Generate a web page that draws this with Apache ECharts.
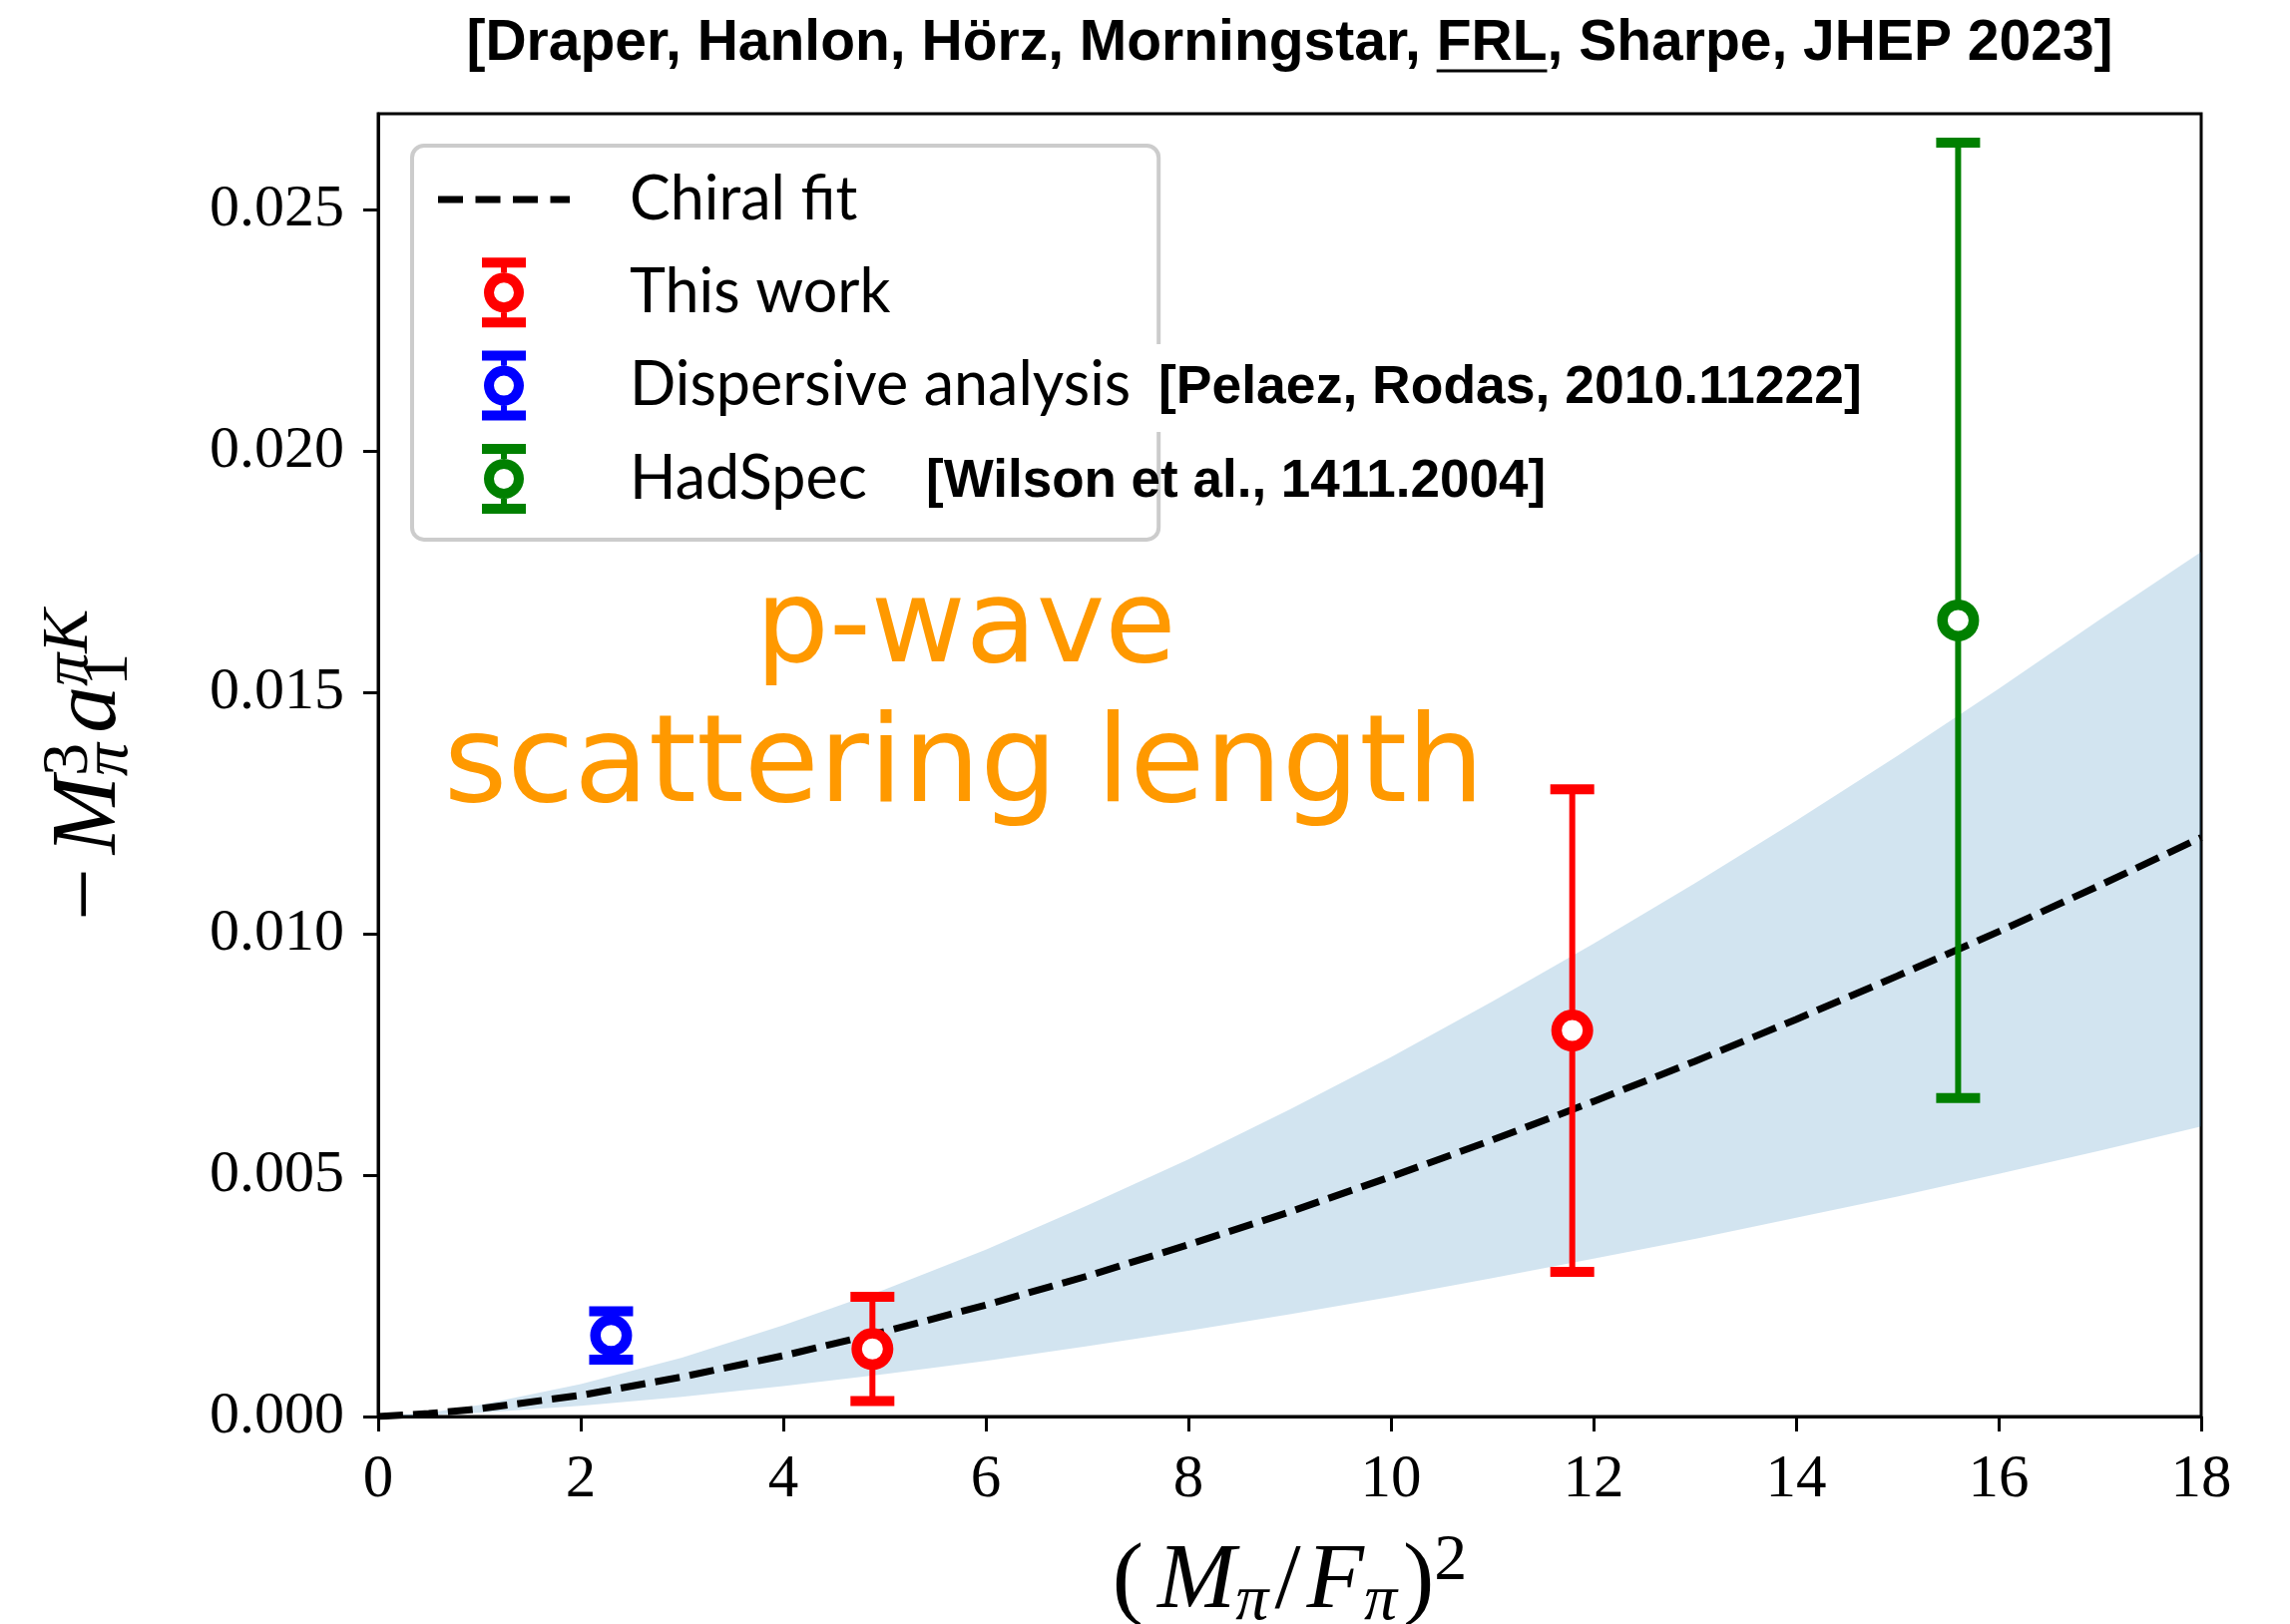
<!DOCTYPE html>
<html>
<head>
<meta charset="utf-8">
<script src="https://cdn.jsdelivr.net/npm/echarts@6/dist/echarts.min.js"></script>
<style>
  html, body { margin: 0; padding: 0; background: #ffffff; }
  #chart { width: 2295px; height: 1628px; }
</style>
</head>
<body>
<div id="chart"></div>
<script>
// Chiral fit (central curve) and its uncertainty band, sampled along (Mπ/Fπ)^2
const fitX      = [0, 0.5, 1, 2, 3, 4, 5, 6, 7, 8, 9, 10, 11, 12, 13, 14, 15, 16, 17, 18];
const fitY      = [0, 0.00006, 0.00016, 0.00044, 0.00082, 0.00126, 0.00176, 0.00231, 0.00291, 0.00356,
                   0.00424, 0.00497, 0.00573, 0.00653, 0.00736, 0.00823, 0.00913, 0.01005, 0.01101, 0.01200];
const bandUpper = [0, 0.00008, 0.00024, 0.00067, 0.00122, 0.00189, 0.00263, 0.00346, 0.00437, 0.00533,
                   0.00636, 0.00745, 0.00860, 0.00980, 0.01105, 0.01235, 0.01369, 0.01508, 0.01652, 0.01792];
const bandLower = [0, 0.00003, 0.00008, 0.00022, 0.00041, 0.00063, 0.00088, 0.00115, 0.00146, 0.00178,
                   0.00212, 0.00248, 0.00287, 0.00327, 0.00368, 0.00412, 0.00456, 0.00503, 0.00551, 0.00601];

// Determinations with 1-sigma errors
const thisWorkX   = [4.88, 11.79];
const thisWorkY   = [0.0014, 0.0080];
const thisWorkErr = [0.00108, 0.0050];

const dispersiveX   = [2.30];
const dispersiveY   = [0.00168];
const dispersiveErr = [0.0005];

const hadSpecX   = [15.60];
const hadSpecY   = [0.0165];
const hadSpecErr = [0.0099];

// Axis ticks
const xTicks = [0, 2, 4, 6, 8, 10, 12, 14, 16, 18];
const yTicks = [0, 0.005, 0.010, 0.015, 0.020, 0.025];

const seriesNames = ['Chiral fit', 'This work', 'Dispersive analysis', 'HadSpec'];
const titleText = '[Draper, Hanlon, Hörz, Morningstar, FRL, Sharpe, JHEP 2023]';
const titleUnderlined = 'FRL';
const refPelaez = '[Pelaez, Rodas, 2010.11222]';
const refWilson = '[Wilson et al., 1411.2004]';
const noteLines = ['p-wave', 'scattering length'];

// ---- layout ----
const GRID = { left: 379, top: 114, width: 1827, height: 1306 };
const plotCenterX = GRID.left + GRID.width / 2;

const zip3 = (a, b, c) => a.map((v, i) => [v, b[i], c[i]]);

function textWidth(str, font) {
  const ctx = document.createElement('canvas').getContext('2d');
  ctx.font = font;
  return ctx.measureText(str).width;
}

const TITLE_SIZE = 57;
const titleFont = 'bold ' + TITLE_SIZE + 'px "Liberation Sans"';
const titleW = textWidth(titleText, titleFont);
const titleLeft = plotCenterX - titleW / 2;
const ulStart = titleLeft + textWidth(titleText.slice(0, titleText.indexOf(titleUnderlined)), titleFont);
const ulEnd = ulStart + textWidth(titleUnderlined, titleFont);

// Error bar: stem, caps and an open circle marker
function errorBarItem(params, api) {
  const x = api.value(0), y = api.value(1), e = api.value(2);
  const c = api.coord([x, y]);
  const hi = api.coord([x, y + e]);
  const lo = api.coord([x, y - e]);
  const color = api.visual('color');
  const capHalf = 22;
  return {
    type: 'group',
    children: [
      { type: 'line', shape: { x1: c[0], y1: hi[1], x2: c[0], y2: lo[1] }, style: { stroke: color, lineWidth: 6 } },
      { type: 'line', shape: { x1: c[0] - capHalf, y1: hi[1], x2: c[0] + capHalf, y2: hi[1] }, style: { stroke: color, lineWidth: 10 } },
      { type: 'line', shape: { x1: c[0] - capHalf, y1: lo[1], x2: c[0] + capHalf, y2: lo[1] }, style: { stroke: color, lineWidth: 10 } },
      { type: 'circle', shape: { cx: c[0], cy: c[1], r: 15.75 }, style: { fill: '#ffffff', stroke: color, lineWidth: 10.5 } }
    ]
  };
}

// Shaded band between lower and upper edges, drawn as one polygon
function bandItem(params, api) {
  if (params.dataIndex !== 0) return null;
  const n = params.dataInsideLength;
  const pts = [];
  for (let i = 0; i < n; i++) pts.push(api.coord([api.value(0, i), api.value(2, i)]));
  for (let i = n - 1; i >= 0; i--) pts.push(api.coord([api.value(0, i), api.value(1, i)]));
  return { type: 'polygon', shape: { points: pts }, style: { fill: 'rgba(31,119,180,0.2)' } };
}

// Legend glyphs (132 x 70 frame)
const frame = 'M0 0M132 70';
const errIcon = 'path://' + frame +
  'M44 0H88V10H44Z' +
  'M63 10H69V15H63Z' +
  'M86 35A20 20 0 1 1 46 35A20 20 0 1 1 86 35Z' +
  'M76 35A10 10 0 1 0 56 35A10 10 0 1 0 76 35Z' +
  'M63 55H69V60H63Z' +
  'M44 60H88V70H44Z';
const dashIcon = 'path://' + frame +
  'M0 31.5H25V38.5H0Z' +
  'M37.5 31.5H62.5V38.5H37.5Z' +
  'M75 31.5H100V38.5H75Z' +
  'M112.5 31.5H132V38.5H112.5Z';

// Math-style rich text for axis titles (tokens laid out left to right;
// a zero-width token lets a superscript sit above the following subscript)
const SERIF = '"Liberation Serif", "DejaVu Serif", serif';
const MAIN = 94, SMALL = 66, LH = 106;
const base = { fontFamily: SERIF, color: '#000', align: 'left' };
const mainSt = Object.assign({}, base, { fontSize: MAIN, lineHeight: LH, verticalAlign: 'middle' });
const supSt  = Object.assign({}, base, { fontSize: SMALL, lineHeight: 52, verticalAlign: 'top' });
const subSt  = Object.assign({}, base, { fontSize: SMALL, lineHeight: 40, verticalAlign: 'bottom' });
const mathRich = {
  rm:     mainSt,
  rmR:    Object.assign({}, mainSt, { padding: [0, 14, 0, 0] }),
  rmL:    Object.assign({}, mainSt, { padding: [0, 0, 0, 6] }),
  rmLR:   Object.assign({}, mainSt, { padding: [0, 6, 0, 6] }),
  it:     Object.assign({}, mainSt, { fontStyle: 'italic' }),
  supRm:  supSt,
  supRmZ: Object.assign({}, supSt, { width: 0 }),
  supIt:  Object.assign({}, supSt, { fontStyle: 'italic' }),
  subIt:  Object.assign({}, subSt, { fontStyle: 'italic' }),
  subItR: Object.assign({}, subSt, { fontStyle: 'italic', padding: [0, 10, 0, 0] }),
  subRmZ: Object.assign({}, subSt, { width: 0 })
};

const chart = echarts.init(document.getElementById('chart'), null, { renderer: 'canvas' });

chart.setOption({
  animation: false,
  backgroundColor: '#ffffff',
  title: {
    text: titleText,
    left: titleLeft,
    top: 16,
    padding: 0,
    textStyle: { fontFamily: '"Liberation Sans", Arial, sans-serif', fontWeight: 'bold', fontSize: TITLE_SIZE, color: '#000' }
  },
  grid: {
    left: GRID.left, top: GRID.top, width: GRID.width, height: GRID.height,
    outerBoundsMode: 'none',
    containLabel: false,
    show: true, borderColor: '#000', borderWidth: 3, backgroundColor: 'transparent'
  },
  legend: {
    orient: 'vertical',
    left: 413,
    top: 146,
    padding: [19, 28, 26, 26],
    itemGap: 23.3,
    itemWidth: 132,
    itemHeight: 70,
    selectedMode: false,
    backgroundColor: 'rgba(255,255,255,0.8)',
    borderColor: '#cccccc',
    borderWidth: 4,
    borderRadius: 12,
    textStyle: { fontFamily: 'Lato', fontSize: 61, color: '#000', padding: [0, 0, 0, 55] },
    data: [
      { name: seriesNames[0], icon: dashIcon },
      { name: seriesNames[1], icon: errIcon },
      { name: seriesNames[2], icon: errIcon },
      { name: seriesNames[3], icon: errIcon }
    ]
  },
  xAxis: {
    type: 'value',
    min: 0, max: 18, interval: 2,
    name: '{rmR|(}{it|M}{subIt|π}{rmLR|/}{it|F}{subIt|π}{rmL|)}{supRm|2}',
    nameLocation: 'middle',
    nameGap: 113,
    nameTextStyle: { rich: mathRich, fontFamily: SERIF, fontSize: MAIN, lineHeight: LH },
    axisLine: { show: true, lineStyle: { color: '#000', width: 3 } },
    axisTick: { show: true, inside: false, length: 15, lineStyle: { color: '#000', width: 3 }, customValues: xTicks },
    axisLabel: { margin: 33, fontFamily: SERIF, fontSize: 61, color: '#000', customValues: xTicks, formatter: v => String(v) },
    splitLine: { show: false }
  },
  yAxis: {
    type: 'value',
    min: 0, max: 0.027,
    name: '{rmR|−}{it|M}{supRmZ|3}{subItR|π}{it|a}{subRmZ|1}{supIt|πK}',
    nameLocation: 'middle',
    nameGap: 236,
    nameTextStyle: { rich: mathRich, fontFamily: SERIF, fontSize: MAIN, lineHeight: LH },
    axisLine: { show: true, lineStyle: { color: '#000', width: 3 } },
    axisTick: { show: true, inside: false, length: 15, lineStyle: { color: '#000', width: 3 }, customValues: yTicks },
    axisLabel: { margin: 34, fontFamily: SERIF, fontSize: 60, color: '#000', customValues: yTicks, formatter: v => v.toFixed(3) },
    splitLine: { show: false }
  },
  series: [
    {
      name: 'band',
      type: 'custom',
      silent: true,
      z: 1,
      renderItem: bandItem,
      data: zip3(fitX, bandLower, bandUpper)
    },
    {
      name: seriesNames[0],
      type: 'line',
      z: 2,
      data: fitX.map((x, i) => [x, fitY[i]]),
      symbol: 'none',
      showSymbol: false,
      smooth: false,
      itemStyle: { color: '#000' },
      lineStyle: { color: '#000', width: 7, type: [25, 10] }
    },
    {
      name: seriesNames[1],
      type: 'custom',
      z: 3,
      itemStyle: { color: '#ff0000' },
      renderItem: errorBarItem,
      data: zip3(thisWorkX, thisWorkY, thisWorkErr)
    },
    {
      name: seriesNames[2],
      type: 'custom',
      z: 3,
      itemStyle: { color: '#0000ff' },
      renderItem: errorBarItem,
      data: zip3(dispersiveX, dispersiveY, dispersiveErr)
    },
    {
      name: seriesNames[3],
      type: 'custom',
      z: 3,
      itemStyle: { color: '#008000' },
      renderItem: errorBarItem,
      data: zip3(hadSpecX, hadSpecY, hadSpecErr)
    }
  ],
  graphic: [
    {
      type: 'line', z: 100,
      shape: { x1: ulStart, y1: 71, x2: ulEnd, y2: 71 },
      style: { stroke: '#000', lineWidth: 3 }
    },
    {
      type: 'text', z: 100, x: 1155, y: 389,
      style: {
        text: refPelaez, fontFamily: '"Liberation Sans", Arial, sans-serif', fontWeight: 'bold', fontSize: 53.5,
        fill: '#000', align: 'left', verticalAlign: 'middle', backgroundColor: '#ffffff', padding: [17, 6, 17, 6]
      }
    },
    {
      type: 'text', z: 100, x: 928, y: 483,
      style: {
        text: refWilson, fontFamily: '"Liberation Sans", Arial, sans-serif', fontWeight: 'bold', fontSize: 53,
        fill: '#000', align: 'left', verticalAlign: 'middle'
      }
    },
    {
      type: 'text', z: 100, x: 968, y: 633,
      style: { text: noteLines[0], fontFamily: '"DejaVu Sans"', fontSize: 116, fill: '#ff9900', align: 'center', verticalAlign: 'middle' }
    },
    {
      type: 'text', z: 100, x: 966, y: 771,
      style: { text: noteLines[1], fontFamily: '"DejaVu Sans"', fontSize: 122, fill: '#ff9900', align: 'center', verticalAlign: 'middle' }
    }
  ]
});
</script>
</body>
</html>
